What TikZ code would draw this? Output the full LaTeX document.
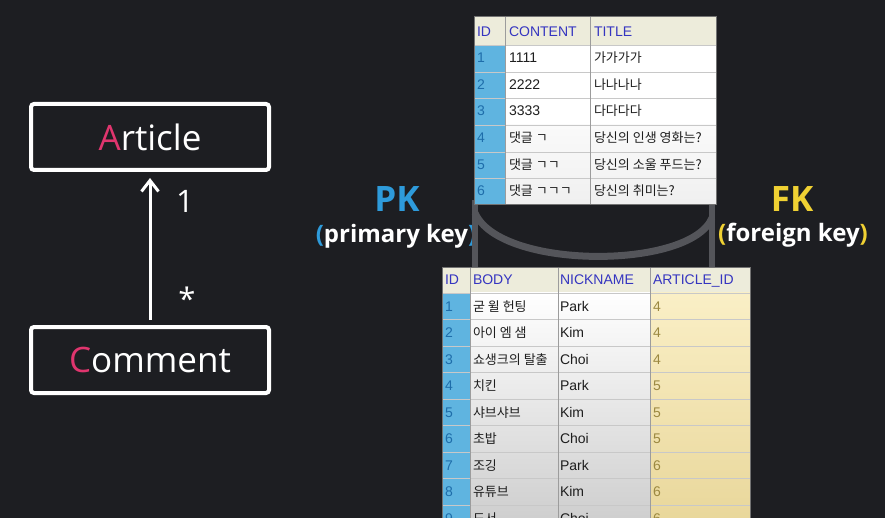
\documentclass[tikz,border=0pt]{standalone}
\usepackage{fontspec}
\setmainfont{Liberation Sans}
\newfontfamily\kr{Noto Sans CJK KR}
\newfontfamily\osans{Open Sans}
\usetikzlibrary{arrows.meta}
\definecolor{bg}{HTML}{1D1E22}
\definecolor{pink}{HTML}{E0356E}
\definecolor{pkblue}{HTML}{2E9BDB}
\definecolor{fkyellow}{HTML}{F0D133}
\definecolor{linkgray}{HTML}{54555A}
\definecolor{hdrbg}{HTML}{EDECDB}
\definecolor{hdrblue}{HTML}{3535C0}
\definecolor{idblue}{HTML}{5FB4E0}
\definecolor{iddark}{HTML}{1E6DAA}
\definecolor{celltext}{HTML}{1E1E1E}
\definecolor{fktext}{HTML}{9B8840}
\definecolor{fkbgA}{HTML}{FAEFC6}
\definecolor{fkbgB}{HTML}{E8D699}
\definecolor{gridc}{HTML}{C8C8C8}
\definecolor{colc}{HTML}{9C9C9C}
\newcommand\ko[1]{{\kr\fontsize{13}{16}\selectfont #1}}
\begin{document}
\begin{tikzpicture}[x=1pt,y=-1pt,
  every node/.style={inner sep=0pt, outer sep=0pt},
  umlbox/.style={draw=white, line width=4pt, rounded corners=3pt,
    minimum width=238pt, minimum height=66pt, text=white,
    font=\osans\fontsize{35}{40}\selectfont},
  hdr/.style={anchor=base west, text=hdrblue, font=\fontsize{14}{16}\selectfont},
  idt/.style={anchor=base west, text=iddark, font=\fontsize{14}{16}\selectfont},
  cellt/.style={anchor=base west, text=celltext, font=\fontsize{14}{16}\selectfont},
  fkt/.style={anchor=base west, text=fktext, font=\fontsize{14}{16}\selectfont},
  link/.style={draw=linkgray, line width=7pt},
  gridline/.style={draw=gridc, line width=0.9pt},
  colline/.style={draw=colc, line width=0.9pt},
  keyname/.style={anchor=base, font=\osans\bfseries\fontsize{35}{40}\selectfont},
  keydesc/.style={anchor=base, text=white, font=\osans\bfseries\fontsize{24}{28}\selectfont},
  mult/.style={text=white, font=\osans\fontsize{31}{36}\selectfont},
]
\useasboundingbox (0,0) rectangle (885,518);
\fill[bg] (0,0) rectangle (885,518);
\clip (0,0) rectangle (885,518);

% ---------- UML ----------
\node[umlbox] (article) at (150,137) {\textcolor{pink}{A}rticle};
\node[umlbox] (comment) at (150,360) {\textcolor{pink}{C}omment};
\draw[white, line width=3pt, shorten <=7pt, shorten >=8pt,
  -{Straight Barb[length=11pt,width=17pt]}] (comment.north) -- (article.south);
\node[mult, anchor=base] (one) at (185,213) {1};
\node[mult] (star) at (187,299) {*};

% ---------- PK / FK ----------
\node[keyname, text=pkblue] (pk) at (397,212) {PK};
\node[keydesc] (pkd) at (396,243) {\textcolor{pkblue}{(}primary key\textcolor{pkblue}{)}};
\node[keyname, text=fkyellow] (fk) at (792,212) {FK};
\node[keydesc] (fkd) at (793,242) {\textcolor{fkyellow}{(}foreign key\textcolor{fkyellow}{)}};

% ---------- link between tables ----------
\coordinate (lt) at (475,200);
\coordinate (lb) at (475,270);
\coordinate (rt) at (712,200);
\coordinate (rb) at (712,270);
\coordinate (la) at (475,213);
\coordinate (ra) at (712,218);
\draw[link, line width=6.5pt] (lt) -- (lb);
\draw[link, line width=6.5pt] (rt) -- (rb);
\draw[link] (la) .. controls (500,270) and (690,270) .. (ra);

% ---------- top table (articles) ----------
\fill[hdrbg] (474,17) rectangle (716,45);
\fill[white] (505,45) rectangle (716,125);
\shade[top color=black!2, bottom color=black!6] (505,125) rectangle (716,205);
\fill[idblue] (474,45) rectangle (505,205);
\foreach \y in {45,72,98,125,152,178} \draw[gridline] (474,\y) -- (716,\y);
\foreach \x in {505,590} \draw[colline] (\x,17) -- (\x,205);
\draw[draw=black!55, line width=1pt] (474,17) rectangle (716,205);

\node[hdr] (ah1) at (477,36.5) {ID};
\node[hdr] (ah2) at (509,36.5) {CONTENT};
\node[hdr] (ah3) at (594,36.5) {TITLE};

\node[idt] (a11) at (477,63) {1};
\node[cellt] (a12) at (509,63) {1111};
\node[cellt] (a13) at (594,63) {\ko{가가가가}};
\node[idt] (a21) at (477,89.5) {2};
\node[cellt] (a22) at (509,89.5) {2222};
\node[cellt] (a23) at (594,89.5) {\ko{나나나나}};
\node[idt] (a31) at (477,116) {3};
\node[cellt] (a32) at (509,116) {3333};
\node[cellt] (a33) at (594,116) {\ko{다다다다}};
\node[idt] (a41) at (477,143) {4};
\node[cellt] (a42) at (509,143) {\ko{댓글 ㄱ}};
\node[cellt] (a43) at (594,143) {\ko{당신의 인생 영화는?}};
\node[idt] (a51) at (477,169.5) {5};
\node[cellt] (a52) at (509,169.5) {\ko{댓글 ㄱㄱ}};
\node[cellt] (a53) at (594,169.5) {\ko{당신의 소울 푸드는?}};
\node[idt] (a61) at (477,196) {6};
\node[cellt] (a62) at (509,196) {\ko{댓글 ㄱㄱㄱ}};
\node[cellt] (a63) at (594,196) {\ko{당신의 취미는?}};

% ---------- bottom table (comments) ----------
\fill[hdrbg] (442,268) rectangle (750,293);
\shade[top color=white, bottom color=black!20] (470,293) rectangle (650,531);
\shade[top color=fkbgA, bottom color=fkbgB] (650,293) rectangle (750,531);
\fill[idblue] (442,293) rectangle (470,531);
\foreach \y in {293,319.5,346,372.5,399,425.5,452,478.5,505} \draw[gridline] (442,\y) -- (750,\y);
\foreach \x in {470,558,650} \draw[colline] (\x,268) -- (\x,531);
\draw[draw=black!55, line width=1pt] (442,268) rectangle (750,531);

\node[hdr] (ch1) at (445,285) {ID};
\node[hdr] (ch2) at (473,285) {BODY};
\node[hdr] (ch3) at (560,285) {NICKNAME};
\node[hdr] (ch4) at (653,285) {ARTICLE\_ID};

\foreach \n/\yb/\body/\nick/\aid in {
  1/311/굳 윌 헌팅/Park/4,
  2/337.5/아이 엠 샘/Kim/4,
  3/364/쇼생크의 탈출/Choi/4,
  4/390.5/치킨/Park/5,
  5/417/샤브샤브/Kim/5,
  6/443.5/초밥/Choi/5,
  7/470/조깅/Park/6,
  8/496.5/유튜브/Kim/6,
  9/523/도서/Choi/6}{
  \node[idt] (c\n id) at (445,\yb) {\n};
  \node[cellt] (c\n body) at (473,\yb) {\ko{\body}};
  \node[cellt] (c\n nick) at (560,\yb) {\nick};
  \node[fkt] (c\n aid) at (653,\yb) {\aid};
}
\end{tikzpicture}
\end{document}
